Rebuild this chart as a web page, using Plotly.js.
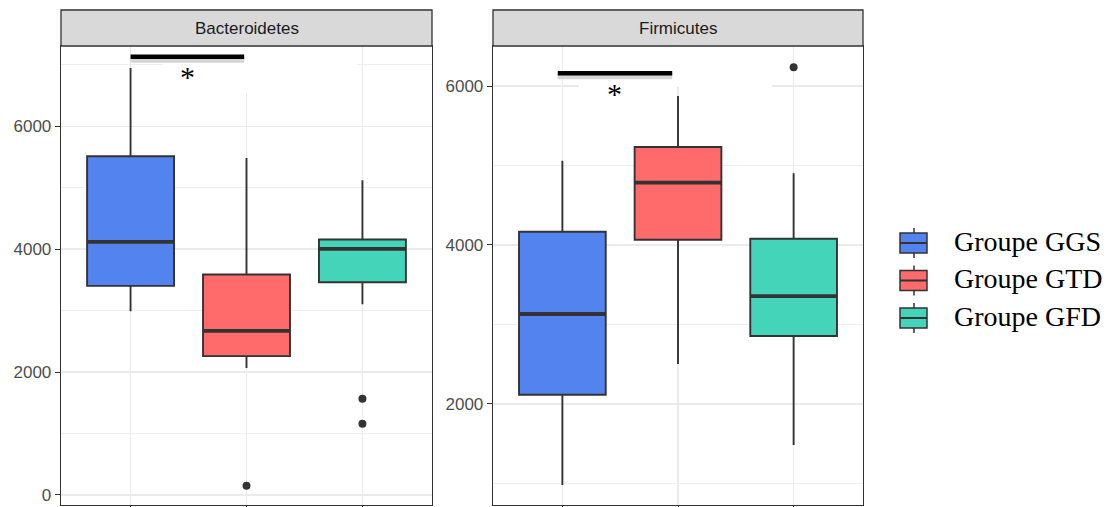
<!DOCTYPE html>
<html>
<head>
<meta charset="utf-8">
<script src="https://cdn.plot.ly/plotly-3.0.1.min.js"></script>
<style>html,body{margin:0;padding:0;background:#fff;}#chart{width:1112px;height:507px;}</style>
</head>
<body>
<div id="chart"></div>
<script>
// ---------- DATA ----------
const groups = ['Groupe GGS', 'Groupe GTD', 'Groupe GFD'];
const panels = ['Bacteroidetes', 'Firmicutes'];

// Bacteroidetes box statistics (GGS, GTD, GFD)
const bactLower  = [2992, 2065, 3106];
const bactQ1     = [3403, 2260, 3463];
const bactMedian = [4119, 2672, 4005];
const bactQ3     = [5512, 3588, 4157];
const bactUpper  = [6948, 5485, 5122];
const bactOutX   = ['Groupe GTD', 'Groupe GFD', 'Groupe GFD'];
const bactOutY   = [151, 1566, 1160];

// Firmicutes box statistics (GGS, GTD, GFD)
const firmLower  = [976, 2500, 1480];
const firmQ1     = [2113, 4065, 2853];
const firmMedian = [3130, 4783, 3356];
const firmQ3     = [4166, 5233, 4078];
const firmUpper  = [5060, 5875, 4902];
const firmOutX   = ['Groupe GFD'];
const firmOutY   = [6237];

// significance brackets: [from group, to group, height]
const bactSig = [0, 0.98, 7133];
const firmSig = [-0.04, 0.95, 6160];
const sigLabel = '*';

// ---------- STYLE ----------
const fills = ['#5383EE', '#FF6A6A', '#43D4BA'];
const W = 1112, H = 507;
const L = 61, R = 863, T = 46, B = 505;
const pw = R - L, ph = B - T;
const xp = px => (px - L) / pw;
const yp = py => (B - py) / ph;
const P1 = [61, 432], P2 = [493, 863];
const dom1 = [xp(P1[0]), xp(P1[1])];
const dom2 = [xp(P2[0]), xp(P2[1])];
const xr = [0.4, 3.6];
const yr1 = [-163, 7307];
const yr2 = [725, 6504];
const lineCol = '#333333';

const traces = [];
function addPanel(lo, q1, med, q3, up, outX, outY, xa, ya) {
  groups.forEach((g, i) => {
    traces.push({
      type: 'box', x: [i + 1], q1: [q1[i]], median: [med[i]], q3: [q3[i]],
      lowerfence: [lo[i]], upperfence: [up[i]],
      width: 0.75, whiskerwidth: 0, boxpoints: false,
      fillcolor: fills[i], line: {color: lineCol, width: 1.9},
      xaxis: xa, yaxis: ya, showlegend: false, name: g, hoverinfo: 'y'
    });
    traces.push({
      type: 'scatter', mode: 'lines', x: [i + 1 - 0.375, i + 1 + 0.375], y: [med[i], med[i]],
      line: {color: lineCol, width: 3.8}, xaxis: xa, yaxis: ya, showlegend: false, hoverinfo: 'skip'
    });
  });
  traces.push({
    type: 'scatter', mode: 'markers', x: outX.map(g => groups.indexOf(g) + 1), y: outY,
    marker: {color: lineCol, size: 8}, xaxis: xa, yaxis: ya, showlegend: false
  });
}
addPanel(bactLower, bactQ1, bactMedian, bactQ3, bactUpper, bactOutX, bactOutY, 'x', 'y');
addPanel(firmLower, firmQ1, firmMedian, firmQ3, firmUpper, firmOutX, firmOutY, 'x2', 'y2');

const tickFont = {family: 'Liberation Sans, Arial, sans-serif', size: 17, color: '#4d4d4d'};
function xAxis(dom, anchor) {
  return {
    domain: dom, anchor: anchor, range: xr, tickvals: [1, 2, 3], ticktext: ['', '', ''],
    ticks: 'outside', ticklen: 5, tickcolor: lineCol, showgrid: true, gridcolor: '#ebebeb', gridwidth: 1.6,
    zeroline: false, showline: true, mirror: true, linecolor: lineCol, linewidth: 1.3, fixedrange: true
  };
}
function yAxis(range, anchor) {
  return {
    domain: [0, 1], anchor: anchor, range: range, tickmode: 'linear', tick0: 0, dtick: 2000,
    ticks: 'outside', ticklen: 5, tickcolor: lineCol, tickfont: tickFont,
    showgrid: true, gridcolor: '#ebebeb', gridwidth: 1.6,
    minor: {tick0: 0, dtick: 1000, showgrid: true, gridcolor: '#efefef', gridwidth: 1.2, ticks: ''},
    zeroline: false, showline: true, mirror: true, linecolor: lineCol, linewidth: 1.3, fixedrange: true
  };
}

const shapes = [];
const annotations = [];

// white patches (background of the pasted significance labels), drawn over the grid, under the boxes
function patch(xa, ya, P, yr, x0, x1, y0, y1) {
  const w = P[1] - P[0];
  const dx = px => xr[0] + (px - P[0]) / w * (xr[1] - xr[0]);
  const dy = py => yr[0] + yp(py) * (yr[1] - yr[0]);
  shapes.push({type: 'rect', xref: xa, yref: ya,
    x0: dx(x0), x1: dx(x1), y0: dy(y1), y1: dy(y0),
    fillcolor: '#ffffff', line: {width: 0}, layer: 'between'});
}
patch('x', 'y', P1, yr1, 163, 357, 47, 93);
patch('x2', 'y2', P2, yr2, 579, 772, 47, 87);

// strips
[[dom1, panels[0]], [dom2, panels[1]]].forEach(([d, name]) => {
  shapes.push({type: 'rect', xref: 'paper', yref: 'paper', x0: d[0], x1: d[1], y0: 1, y1: yp(10),
    fillcolor: '#d9d9d9', line: {color: lineCol, width: 1.3}});
  annotations.push({xref: 'paper', yref: 'paper', x: (d[0] + d[1]) / 2, y: (1 + yp(10)) / 2,
    text: name, showarrow: false, xanchor: 'center', yanchor: 'middle',
    font: {family: 'Liberation Sans, Arial, sans-serif', size: 17, color: '#1a1a1a'}});
});

// significance brackets
[[bactSig, 'x', 'y', yr1], [firmSig, 'x2', 'y2', yr2]].forEach(([s, xa, ya, yr]) => {
  const x0 = s[0] + 1, x1 = s[1] + 1;
  const yPaper = (s[2] - yr[0]) / (yr[1] - yr[0]);
  shapes.push({type: 'rect', xref: xa, yref: 'paper', x0: x0, x1: x1, y0: yPaper - 6 / ph, y1: yPaper,
    fillcolor: '#d4d4d4', line: {width: 0}});
  shapes.push({type: 'line', xref: xa, yref: ya, x0: x0, x1: x1, y0: s[2], y1: s[2],
    line: {color: '#000000', width: 4.5}});
  annotations.push({xref: xa, yref: ya, x: (x0 + x1) / 2, y: s[2], yshift: -20, text: sigLabel,
    showarrow: false, xanchor: 'center', yanchor: 'middle',
    font: {family: 'Liberation Serif, serif', size: 30, color: '#000'}});
});

// legend (custom, larger keys)
groups.forEach((g, i) => {
  const c = 243 + i * 37.5;
  shapes.push({type: 'line', xref: 'paper', yref: 'paper', x0: xp(914), x1: xp(914), y0: yp(c - 15), y1: yp(c + 15),
    line: {color: lineCol, width: 1.5}});
  shapes.push({type: 'rect', xref: 'paper', yref: 'paper', x0: xp(900), x1: xp(927), y0: yp(c + 10), y1: yp(c - 10),
    fillcolor: fills[i], line: {color: lineCol, width: 1.5}});
  shapes.push({type: 'line', xref: 'paper', yref: 'paper', x0: xp(900), x1: xp(927), y0: yp(c), y1: yp(c),
    line: {color: lineCol, width: 2}});
  annotations.push({xref: 'paper', yref: 'paper', x: xp(952), y: yp(c - 2), text: g, showarrow: false,
    xanchor: 'left', yanchor: 'middle', font: {family: 'Liberation Serif, serif', size: 28, color: '#000'}});
});

const layout = {
  width: W, height: H,
  margin: {l: L, r: W - R, t: T, b: H - B, pad: 0},
  paper_bgcolor: '#ffffff', plot_bgcolor: '#ffffff',
  showlegend: false,
  xaxis: xAxis(dom1, 'y'), yaxis: yAxis(yr1, 'x'),
  xaxis2: xAxis(dom2, 'y2'), yaxis2: yAxis(yr2, 'x2'),
  shapes: shapes, annotations: annotations
};
Plotly.newPlot('chart', traces, layout, {displayModeBar: false, staticPlot: true});
</script>
</body>
</html>
